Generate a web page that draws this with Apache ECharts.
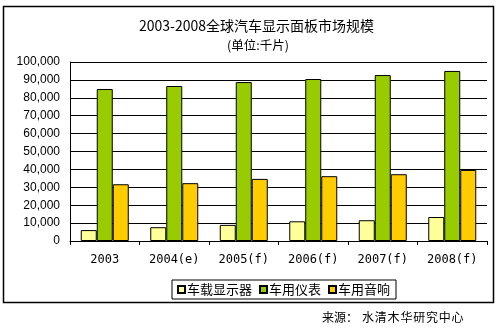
<!DOCTYPE html>
<html><head><meta charset="utf-8">
<script src="https://cdn.jsdelivr.net/npm/echarts@6/dist/echarts.min.js"></script>
<style>html,body{margin:0;padding:0;background:#fff}#c{width:499px;height:331px}</style>
</head><body><div id="c"></div>
<script>
const categories = ['2003', '2004(e)', '2005(f)', '2006(f)', '2007(f)', '2008(f)'];
const seriesNames = ['车载显示器', '车用仪表', '车用音响'];
const displayVals = [6100, 7700, 9000, 11000, 11600, 13400];
const meterVals = [84900, 86600, 88800, 90500, 92700, 95000];
const audioVals = [31700, 32300, 34700, 36200, 37300, 39700];
const yTicks = [0, 100000, 10000];
const colors = ['#FFFF99', '#99CC00', '#FFCC00'];
const sourceLabel = '来源：';
const sourceName = '水清木华研究中心';

const chart = echarts.init(document.getElementById('c'));
const mk = (name, data, color) => ({
  name, type: 'bar', data, barGap: '0%', barWidth: 16,
  itemStyle: { color, borderColor: '#000', borderWidth: 1 },
  emphasis: { disabled: true }
});
const srcGraphics = [
  { type: 'text', left: 322, top: 311,
    style: { text: sourceLabel, fontSize: 12, fill: '#000', fontFamily: 'Noto Sans CJK SC' }, silent: true }
].concat(sourceName.split('').map((ch, i) => ({
  type: 'text', left: 362 + i * 12.8, top: 311,
  style: { text: ch, fontSize: 12, fill: '#000', fontFamily: 'Noto Sans CJK SC' }, silent: true
})));
chart.setOption({
  animation: false,
  textStyle: { fontFamily: 'Liberation Sans, Arial, sans-serif' },
  title: [
    { text: '2003-2008全球汽车显示面板市场规模', left: 134, top: 14,
      textStyle: { fontSize: 14, fontWeight: 'normal', color: '#000', fontFamily: 'Noto Sans CJK SC' } },
    { text: '(单位:千片)', left: 222, top: 34,
      textStyle: { fontSize: 12.5, fontWeight: 'normal', color: '#000', fontFamily: 'Noto Sans CJK SC' } }
  ],
  grid: { left: 70, right: 12, top: 62, bottom: 90, containLabel: false },
  legend: {
    bottom: 32, left: 172, itemWidth: 7, itemHeight: 7, itemGap: 7,
    icon: 'rect', borderColor: '#000', borderWidth: 1, padding: [3, 6, 3, 5],
    textStyle: { fontSize: 13, color: '#000', fontFamily: 'Noto Sans CJK SC', padding: [0, 0, 0, -3] },
    data: seriesNames
  },
  xAxis: {
    type: 'category', data: categories,
    axisLine: { lineStyle: { color: '#000', width: 1 } },
    axisTick: { show: true, alignWithLabel: false, length: 4, lineStyle: { color: '#000' } },
    axisLabel: { color: '#000', fontSize: 12, margin: 13, fontFamily: 'DejaVu Sans Mono' }
  },
  yAxis: {
    type: 'value', min: yTicks[0], max: yTicks[1], interval: yTicks[2],
    axisLine: { show: true, lineStyle: { color: '#000' } },
    axisTick: { show: false },
    splitLine: { lineStyle: { color: '#000', width: 1 } },
    axisLabel: { color: '#000', fontSize: 12, margin: 10,
      formatter: v => v.toLocaleString('en-US') }
  },
  series: [
    mk(seriesNames[0], displayVals, colors[0]),
    mk(seriesNames[1], meterVals, colors[1]),
    mk(seriesNames[2], audioVals, colors[2])
  ],
  graphic: [
    { type: 'rect', shape: { x: 3.5, y: 6.5, width: 490, height: 296 },
      style: { fill: 'none', stroke: '#000', lineWidth: 1.5 }, silent: true }
  ].concat(srcGraphics)
});
</script></body></html>
